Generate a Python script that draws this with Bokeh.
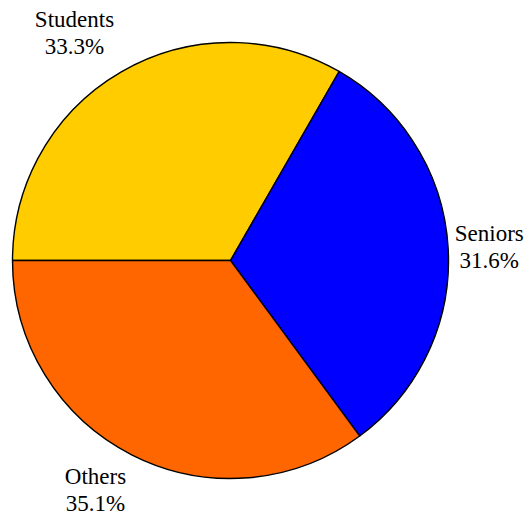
import math
from bokeh.plotting import figure
from bokeh.models import Range1d, ColumnDataSource
from bokeh.core.properties import value
from bokeh.embed import file_html
from bokeh.resources import INLINE

# Data
categories = ["Students", "Seniors", "Others"]
shares = [33.3, 31.6, 35.1]
colors = ["#FFCC00", "#0000FF", "#FF6600"]

W, H = 525, 517
R_PX = 218.0
CX_PX, CY_PX = 230.0, 260.0  # pie centre in plot pixels (from top-left)

p = figure(width=W, height=H, output_backend="svg", toolbar_location=None,
           x_range=Range1d(-CX_PX / R_PX, (W - CX_PX) / R_PX),
           y_range=Range1d(-(H - CY_PX) / R_PX, CY_PX / R_PX),
           min_border=0)
p.axis.visible = False
p.grid.visible = False
p.outline_line_color = None
p.background_fill_color = "white"

total = sum(shares)
starts, ends, mids = [], [], []
cum = 0.0
for s in shares:
    a0 = math.pi - 2 * math.pi * cum / total
    cum += s
    a1 = math.pi - 2 * math.pi * cum / total
    starts.append(a0)
    ends.append(a1)
    mids.append((a0 + a1) / 2)

src = ColumnDataSource(dict(start=starts, end=ends, color=colors))
p.wedge(x=0, y=0, radius=1, start_angle="start", end_angle="end", direction="clock",
        fill_color="color", line_color="black", line_width=1.4, source=src)

FS = 23
anchor_r = 1.03
lx, ly, xo, yo = [], [], [], []
for cat, m in zip(categories, mids):
    c, s = math.cos(m), math.sin(m)
    lx.append(anchor_r * c)
    ly.append(anchor_r * s)
    w = max(len(cat), 5) * 0.43 * FS
    dx = (1 if c > 0 else -1) * (w / 2 + (0 if c > 0 else 4))
    if abs(s) < 0.3:
        dy = 0
    elif s > 0:
        dy = -33
    else:
        dy = 30
    xo.append(dx)
    yo.append(dy)

names = categories
pcts = [f"{v:.1f}%" for v in shares]
lsrc = ColumnDataSource(dict(x=lx, y=ly, name=names, pct=pcts,
                             xo=xo, yo_n=[v - 14 for v in yo], yo_p=[v + 13 for v in yo]))
common = dict(text_font=value("Liberation Serif"), text_font_size=f"{FS}px",
              text_color="black", text_align="center", text_baseline="middle", source=lsrc)
p.text(x="x", y="y", text="name", x_offset="xo", y_offset="yo_n", **common)
p.text(x="x", y="y", text="pct", x_offset="xo", y_offset="yo_p", **common)

open("out.html", "w").write(file_html(p, INLINE))
